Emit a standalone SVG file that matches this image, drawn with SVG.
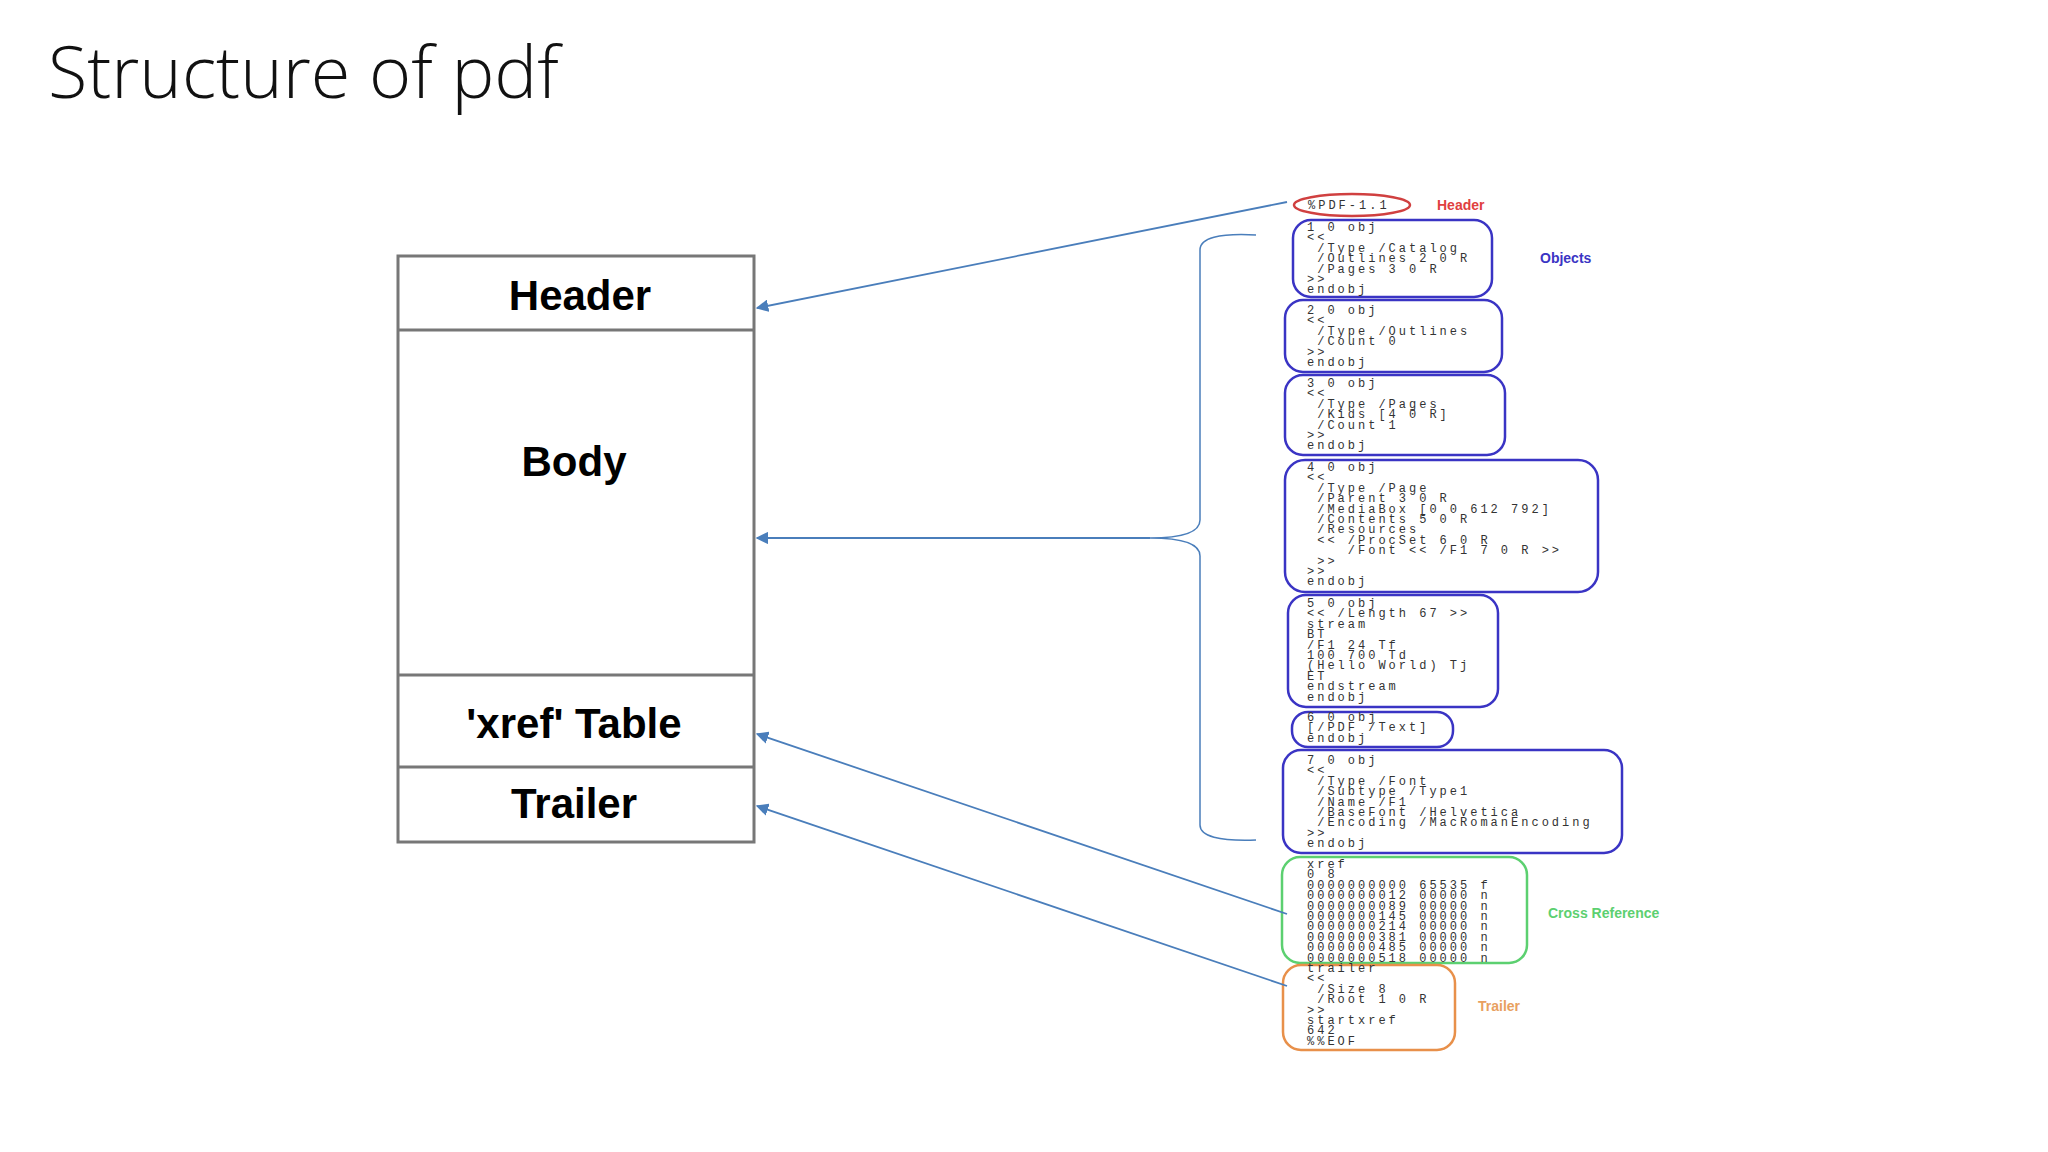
<svg xmlns="http://www.w3.org/2000/svg" width="2048" height="1152" viewBox="0 0 2048 1152">
<style>
.big{font-family:"Liberation Sans",Arial,sans-serif;font-weight:bold;font-size:42px;text-anchor:middle;fill:#000}
.code{font-family:"Liberation Mono","DejaVu Sans Mono",monospace;font-size:12px;letter-spacing:3px;fill:#333}
.obj{fill:#fff;stroke:#3a34c4;stroke-width:2.5}
.lbl{font-family:"Liberation Sans",Arial,sans-serif;font-weight:bold;font-size:14px}
.conn{stroke:#4a7ebb;stroke-width:1.8;fill:none}
</style>
<defs>
<marker id="ah" viewBox="0 0 10 10" refX="9" refY="5" markerWidth="7" markerHeight="7" orient="auto"><path d="M0,0 L10,5 L0,10 z" fill="#4a7ebb"/></marker>
</defs>
<rect width="2048" height="1152" fill="#fff"/>
<text x="48" y="98" font-family="'Open Sans','Liberation Sans',sans-serif" font-weight="300" font-size="72" fill="#111">Structure of pdf</text>

<g id="stack">
<rect x="398" y="256" width="356" height="586" fill="#fff" stroke="#777" stroke-width="3"/>
<line x1="398" y1="330" x2="754" y2="330" stroke="#777" stroke-width="3"/>
<line x1="398" y1="675" x2="754" y2="675" stroke="#777" stroke-width="3"/>
<line x1="398" y1="767" x2="754" y2="767" stroke="#777" stroke-width="3"/>
<text class="big" x="580" y="310">Header</text>
<text class="big" x="574" y="476">Body</text>
<text class="big" x="574" y="738">'xref' Table</text>
<text class="big" x="574" y="818">Trailer</text>
</g>

<g id="hdr">
<ellipse cx="1352" cy="205" rx="58" ry="11" fill="#fff" stroke="#d04040" stroke-width="2.5"/>
<text class="code" x="1308" y="209">%PDF-1.1</text>
<text class="lbl" x="1437" y="210" fill="#e04040">Header</text>
</g>

<g id="obj1">
<rect class="obj" x="1293" y="220" width="199" height="77" rx="18"/>
<text class="code" xml:space="preserve"><tspan x="1307" y="231">1 0 obj</tspan><tspan x="1307" dy="10.4">&lt;&lt;</tspan><tspan x="1307" dy="10.4"> /Type /Catalog</tspan><tspan x="1307" dy="10.4"> /Outlines 2 0 R</tspan><tspan x="1307" dy="10.4"> /Pages 3 0 R</tspan><tspan x="1307" dy="10.4">&gt;&gt;</tspan><tspan x="1307" dy="10.4">endobj</tspan></text>
<text class="lbl" x="1540" y="263" fill="#3a34c4">Objects</text>
</g>
<g id="obj2">
<rect class="obj" x="1285" y="300" width="217" height="72" rx="18"/>
<text class="code" xml:space="preserve"><tspan x="1307" y="314">2 0 obj</tspan><tspan x="1307" dy="10.4">&lt;&lt;</tspan><tspan x="1307" dy="10.4"> /Type /Outlines</tspan><tspan x="1307" dy="10.4"> /Count 0</tspan><tspan x="1307" dy="10.4">&gt;&gt;</tspan><tspan x="1307" dy="10.4">endobj</tspan></text>
</g>
<g id="obj3">
<rect class="obj" x="1285" y="375" width="220" height="80" rx="18"/>
<text class="code" xml:space="preserve"><tspan x="1307" y="387">3 0 obj</tspan><tspan x="1307" dy="10.4">&lt;&lt;</tspan><tspan x="1307" dy="10.4"> /Type /Pages</tspan><tspan x="1307" dy="10.4"> /Kids [4 0 R]</tspan><tspan x="1307" dy="10.4"> /Count 1</tspan><tspan x="1307" dy="10.4">&gt;&gt;</tspan><tspan x="1307" dy="10.4">endobj</tspan></text>
</g>
<g id="obj4">
<rect class="obj" x="1285" y="460" width="313" height="132" rx="20"/>
<text class="code" xml:space="preserve"><tspan x="1307" y="471">4 0 obj</tspan><tspan x="1307" dy="10.4">&lt;&lt;</tspan><tspan x="1307" dy="10.4"> /Type /Page</tspan><tspan x="1307" dy="10.4"> /Parent 3 0 R</tspan><tspan x="1307" dy="10.4"> /MediaBox [0 0 612 792]</tspan><tspan x="1307" dy="10.4"> /Contents 5 0 R</tspan><tspan x="1307" dy="10.4"> /Resources</tspan><tspan x="1307" dy="10.4"> &lt;&lt; /ProcSet 6 0 R</tspan><tspan x="1307" dy="10.4">    /Font &lt;&lt; /F1 7 0 R &gt;&gt;</tspan><tspan x="1307" dy="10.4"> &gt;&gt;</tspan><tspan x="1307" dy="10.4">&gt;&gt;</tspan><tspan x="1307" dy="10.4">endobj</tspan></text>
</g>
<g id="obj5">
<rect class="obj" x="1288" y="595" width="210" height="112" rx="18"/>
<text class="code" xml:space="preserve"><tspan x="1307" y="607">5 0 obj</tspan><tspan x="1307" dy="10.4">&lt;&lt; /Length 67 &gt;&gt;</tspan><tspan x="1307" dy="10.4">stream</tspan><tspan x="1307" dy="10.4">BT</tspan><tspan x="1307" dy="10.4">/F1 24 Tf</tspan><tspan x="1307" dy="10.4">100 700 Td</tspan><tspan x="1307" dy="10.4">(Hello World) Tj</tspan><tspan x="1307" dy="10.4">ET</tspan><tspan x="1307" dy="10.4">endstream</tspan><tspan x="1307" dy="10.4">endobj</tspan></text>
</g>
<g id="obj6">
<rect class="obj" x="1292" y="712" width="161" height="35" rx="16"/>
<text class="code" xml:space="preserve"><tspan x="1307" y="721">6 0 obj</tspan><tspan x="1307" dy="10.4">[/PDF /Text]</tspan><tspan x="1307" dy="10.4">endobj</tspan></text>
</g>
<g id="obj7">
<rect class="obj" x="1283" y="750" width="339" height="103" rx="18"/>
<text class="code" xml:space="preserve"><tspan x="1307" y="764">7 0 obj</tspan><tspan x="1307" dy="10.4">&lt;&lt;</tspan><tspan x="1307" dy="10.4"> /Type /Font</tspan><tspan x="1307" dy="10.4"> /Subtype /Type1</tspan><tspan x="1307" dy="10.4"> /Name /F1</tspan><tspan x="1307" dy="10.4"> /BaseFont /Helvetica</tspan><tspan x="1307" dy="10.4"> /Encoding /MacRomanEncoding</tspan><tspan x="1307" dy="10.4">&gt;&gt;</tspan><tspan x="1307" dy="10.4">endobj</tspan></text>
</g>
<g id="xref">
<rect x="1282" y="857" width="245" height="106" rx="18" fill="#fff" stroke="#5cd070" stroke-width="2.5"/>
<text class="code" xml:space="preserve"><tspan x="1307" y="868">xref</tspan><tspan x="1307" dy="10.4">0 8</tspan><tspan x="1307" dy="10.4">0000000000 65535 f</tspan><tspan x="1307" dy="10.4">0000000012 00000 n</tspan><tspan x="1307" dy="10.4">0000000089 00000 n</tspan><tspan x="1307" dy="10.4">0000000145 00000 n</tspan><tspan x="1307" dy="10.4">0000000214 00000 n</tspan><tspan x="1307" dy="10.4">0000000381 00000 n</tspan><tspan x="1307" dy="10.4">0000000485 00000 n</tspan><tspan x="1307" dy="10.4">0000000518 00000 n</tspan></text>
<text class="lbl" x="1548" y="918" fill="#5cd070">Cross Reference</text>
</g>
<g id="trailer">
<rect x="1283" y="965" width="172" height="85" rx="18" fill="none" stroke="#e8904a" stroke-width="2.5"/>
<text class="code" xml:space="preserve"><tspan x="1307" y="972">trailer</tspan><tspan x="1307" dy="10.4">&lt;&lt;</tspan><tspan x="1307" dy="10.4"> /Size 8</tspan><tspan x="1307" dy="10.4"> /Root 1 0 R</tspan><tspan x="1307" dy="10.4">&gt;&gt;</tspan><tspan x="1307" dy="10.4">startxref</tspan><tspan x="1307" dy="10.4">642</tspan><tspan x="1307" dy="10.4">%%EOF</tspan></text>
<text class="lbl" x="1478" y="1011" fill="#e8a060">Trailer</text>
</g>

<g id="connectors">
<path d="M1256,235 Q1200,232 1200,250 L1200,520 Q1200,538 1150,538 Q1200,538 1200,556 L1200,825 Q1200,842 1256,840" fill="none" stroke="#4a7ebb" stroke-width="1.5"/>
<line class="conn" x1="1150" y1="538" x2="757" y2="538" marker-end="url(#ah)"/>
<line class="conn" x1="1287" y1="202" x2="757" y2="308" marker-end="url(#ah)"/>
<line class="conn" x1="1287" y1="914" x2="757" y2="734" marker-end="url(#ah)"/>
<line class="conn" x1="1287" y1="986" x2="757" y2="806" marker-end="url(#ah)"/>
</g>
</svg>
